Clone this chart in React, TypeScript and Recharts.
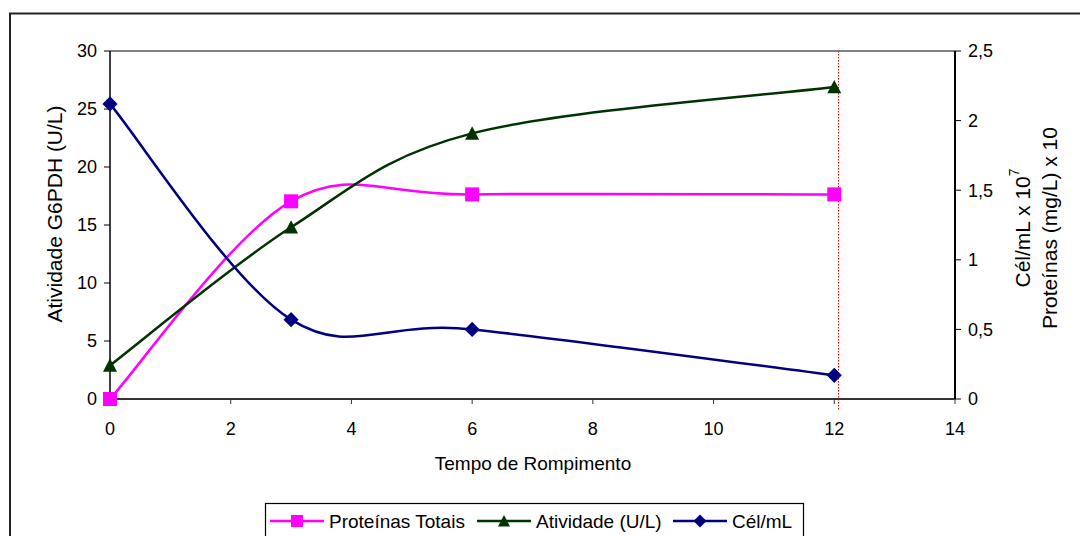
import { ComposedChart, Line, XAxis, YAxis, ReferenceLine } from 'recharts';

const TIMES = [0, 3, 6, 12];
const PROTEINAS = [0, 1.42, 1.47, 1.47];
const ATIVIDADE = [2.9, 14.8, 22.9, 26.9];
const CELULAS = [2.12, 0.57, 0.5, 0.17];

const X_TICKS = [0, 2, 4, 6, 8, 10, 12, 14];
const LEFT_TICKS = [0, 5, 10, 15, 20, 25, 30];
const RIGHT_TICKS = [0, 0.5, 1, 1.5, 2, 2.5];
const MARK_X = 12.07;

const SERIES = [
  { key: 'proteinas', name: 'Proteínas Totais', color: '#FF00FF', marker: 'square', axis: 'right' },
  { key: 'atividade', name: 'Atividade (U/L)', color: '#003300', marker: 'triangle', axis: 'left' },
  { key: 'celulas', name: 'Cél/mL', color: '#000080', marker: 'diamond', axis: 'right' },
];

const data = TIMES.map((t, i) => ({
  t,
  proteinas: PROTEINAS[i],
  atividade: ATIVIDADE[i],
  celulas: CELULAS[i],
}));

const FONT = '"Liberation Sans", Arial, Helvetica, sans-serif';

// excel-like smoothing (catmull-rom, 1/6 control points)
const excelCurve: any = (ctx: any) => {
  let pts: number[][] = [];
  return {
    areaStart() {},
    areaEnd() {},
    lineStart() {
      pts = [];
    },
    point(x: number, y: number) {
      pts.push([+x, +y]);
    },
    lineEnd() {
      const n = pts.length;
      if (!n) return;
      ctx.moveTo(pts[0][0], pts[0][1]);
      for (let i = 0; i < n - 1; i++) {
        const p0 = pts[Math.max(i - 1, 0)];
        const p1 = pts[i];
        const p2 = pts[i + 1];
        const p3 = pts[Math.min(i + 2, n - 1)];
        ctx.bezierCurveTo(
          p1[0] + (p2[0] - p0[0]) / 6,
          p1[1] + (p2[1] - p0[1]) / 6,
          p2[0] - (p3[0] - p1[0]) / 6,
          p2[1] - (p3[1] - p1[1]) / 6,
          p2[0],
          p2[1]
        );
      }
    },
  };
};

const Marker = ({ type, cx, cy, color, size }: any) => {
  const h = size / 2;
  if (type === 'square') {
    return <rect x={cx - h} y={cy - h} width={size} height={size} fill={color} />;
  }
  if (type === 'triangle') {
    return <path d={`M${cx},${cy - h} L${cx + h},${cy + h * 0.9} L${cx - h},${cy + h * 0.9} Z`} fill={color} />;
  }
  const d = h * 1.08;
  return <path d={`M${cx},${cy - d} L${cx + d},${cy} L${cx},${cy + d} L${cx - d},${cy} Z`} fill={color} />;
};

const comma = (v: number) => String(v).replace('.', ',');

const Legend = () => {
  const lineX = [270, 477, 673];
  return (
    <g>
      <rect x={265.5} y={503.5} width={538} height={40} fill="#fff" stroke="#000" strokeWidth={1.2} />
      {SERIES.map((s, i) => (
        <g key={s.key}>
          <line x1={lineX[i]} y1={521} x2={lineX[i] + 54} y2={521} stroke={s.color} strokeWidth={2.5} />
          <Marker type={s.marker} cx={lineX[i] + 27} cy={521} color={s.color} size={12} />
          <text x={lineX[i] + 59} y={527.5} fontSize={19} fontFamily={FONT} fill="#000">
            {s.name}
          </text>
        </g>
      ))}
    </g>
  );
};

export default function App() {
  return (
    <div
      style={{
        position: 'fixed',
        left: 0,
        top: 0,
        width: 1080,
        height: 536,
        overflow: 'hidden',
        background: '#fff',
        fontFamily: FONT,
      }}
    >
      <div style={{ position: 'absolute', left: 0, top: 0 }}>
        <ComposedChart width={1080} height={536} data={data} margin={{ top: 51, right: 65, bottom: 97, left: 50 }}>
          <XAxis
            dataKey="t"
            type="number"
            domain={[0, 14]}
            ticks={X_TICKS}
            tickSize={5}
            tickMargin={18}
            axisLine={{ stroke: '#333', strokeWidth: 2 }}
            tickLine={{ stroke: '#333', strokeWidth: 1 }}
            tick={{ fill: '#000', fontSize: 18, fontFamily: FONT }}
            height={40}
            interval={0}
          />
          <YAxis
            yAxisId="left"
            domain={[0, 30]}
            ticks={LEFT_TICKS}
            width={60}
            tickSize={6}
            tickMargin={7}
            axisLine={{ stroke: '#000', strokeWidth: 1.5 }}
            tickLine={{ stroke: '#000', strokeWidth: 1 }}
            tick={{ fill: '#000', fontSize: 18, fontFamily: FONT }}
            interval={0}
          />
          <YAxis
            yAxisId="right"
            orientation="right"
            domain={[0, 2.5]}
            ticks={RIGHT_TICKS}
            width={60}
            tickSize={6}
            tickMargin={7}
            tickFormatter={comma}
            axisLine={{ stroke: '#000', strokeWidth: 2 }}
            tickLine={{ stroke: '#000', strokeWidth: 1 }}
            tick={{ fill: '#000', fontSize: 18, fontFamily: FONT }}
            interval={0}
          />
          <ReferenceLine yAxisId="left" y={30} stroke="#808080" strokeWidth={2} />
          <ReferenceLine
            yAxisId="left"
            x={MARK_X}
            shape={(p: any) => (
              <line
                x1={p.x1}
                x2={p.x2}
                y1={Math.min(p.y1, p.y2)}
                y2={Math.max(p.y1, p.y2) + 12}
                stroke="#FF0000"
                strokeWidth={1}
                strokeDasharray="1.5 1.5"
              />
            )}
          />
          {SERIES.map((s) => (
            <Line
              key={s.key}
              yAxisId={s.axis}
              dataKey={s.key}
              name={s.name}
              type={excelCurve}
              stroke={s.color}
              strokeWidth={2.5}
              isAnimationActive={false}
              activeDot={false}
              dot={(p: any) => (
                <Marker key={`${s.key}-${p.index}`} type={s.marker} cx={p.cx} cy={p.cy} color={s.color} size={14} />
              )}
            />
          ))}
        </ComposedChart>
      </div>
      <svg width={1080} height={536} style={{ position: 'absolute', left: 0, top: 0, pointerEvents: 'none' }}>
        <path d="M10,560 V13.5 H1100" fill="none" stroke="#222" strokeWidth={2} />
        <text
          x={54}
          y={214}
          transform="rotate(-90 54 214)"
          textAnchor="middle"
          dominantBaseline="central"
          fontSize={21}
          fontFamily={FONT}
          fill="#000"
        >
          Atividade G6PDH (U/L)
        </text>
        <text
          x={1022}
          y={228}
          transform="rotate(-90 1022 228)"
          textAnchor="middle"
          dominantBaseline="central"
          fontSize={21}
          fontFamily={FONT}
          fill="#000"
        >
          Cél/mL x 10
          <tspan dy={-8} fontSize={14}>
            7
          </tspan>
        </text>
        <text
          x={1049}
          y={228}
          transform="rotate(-90 1049 228)"
          textAnchor="middle"
          dominantBaseline="central"
          fontSize={21}
          fontFamily={FONT}
          fill="#000"
        >
          Proteínas (mg/L) x 10
        </text>
        <text x={533} y={470} textAnchor="middle" fontSize={19} fontFamily={FONT} fill="#000">
          Tempo de Rompimento
        </text>
        <Legend />
      </svg>
    </div>
  );
}
